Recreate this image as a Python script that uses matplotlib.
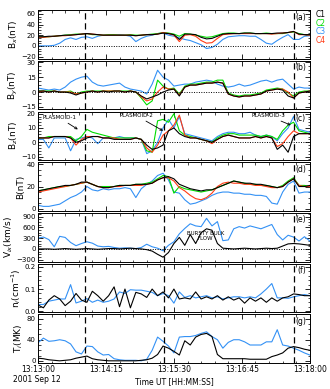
import numpy as np
import matplotlib
matplotlib.use("Agg")
import matplotlib.pyplot as plt
from matplotlib.ticker import MultipleLocator, AutoMinorLocator

# seconds after 13:13:00, 6 s sampling
t = np.arange(0, 301, 6)

bx_c1 = [17, 17, 18, 18, 19, 20, 20, 21, 22, 23,
         22, 21, 20, 20, 20, 20, 20, 20, 19, 20,
         21, 21, 22, 24, 23, 21, 12, 22, 22, 21,
         16, 13, 14, 18, 22, 23, 23, 23, 24, 24,
         23, 23, 23, 23, 24, 24, 25, 27, 22, 21,
         21]
bx_c2 = [16, 17, 17, 18, 19, 20, 21, 22, 22, 23,
         21, 21, 20, 21, 21, 20, 20, 21, 20, 20,
         21, 22, 23, 25, 24, 22, 18, 23, 22, 20,
         18, 16, 17, 20, 23, 24, 24, 23, 24, 24,
         23, 23, 24, 23, 23, 23, 25, 26, 23, 21,
         21]
bx_c3 = [0, 0, 0, 1, 5, 12, 15, 12, 16, 17,
         14, 18, 20, 20, 20, 21, 20, 18, 8, 14,
         18, 20, 23, 24, 20, 18, 15, 12, 10, 6,
         2, -5, -3, 3, 12, 17, 18, 19, 19, 18,
         18, 12, 5, 3, 10, 16, 21, 12, 12, 18,
         19]
bx_c4 = [16, 16, 17, 18, 19, 19, 20, 21, 22, 23,
         22, 21, 20, 20, 20, 20, 20, 20, 19, 20,
         21, 21, 22, 25, 23, 20, 8, 20, 21, 18,
         10, 5, 6, 14, 21, 22, 23, 23, 23, 23,
         23, 23, 23, 22, 23, 24, 25, 27, 21, 21,
         20]

by_c1 = [1, 1, 0, 1, 0, 0, -1, -3, -1, 0,
         1, 0, 1, 0, 1, 1, 0, 1, 0, -4,
         -7, -5, -3, 0, 2, 3, -4, 5, 7, 7,
         8, 9, 9, 10, 9, -2, -4, -5, -4, -4,
         -3, -2, 1, 2, 3, 2, -4, -6, -1, 0,
         1]
by_c2 = [1, 1, 1, 1, 0, 0, 1, -2, 0, 1,
         1, 1, 1, 1, 1, 1, 1, 1, 0, -6,
         -13, -9, 12, 6, 3, 4, -2, 6, 8, 8,
         9, 10, 10, 12, 12, -1, -3, -4, -3, -3,
         -2, -1, 2, 3, 4, 3, -1, -4, 0, 1,
         1]
by_c3 = [4, 3, 2, 3, 2, 5, 10, 13, 15, 16,
         10, 7, 6, 7, 8, 9, 5, 3, 2, 1,
         -2, 8, 22, 15, 12, 6, 7, 8, 8, 10,
         11, 12, 11, 8, 6, 5, 6, 8, 6, 7,
         9, 11, 12, 10, 12, 13, 8, 3, 5, 4,
         4]
by_c4 = [0, 1, 0, 1, 0, 0, 0, -2, -1, 0,
         1, 0, 1, 1, 1, 1, 0, 1, 0, -5,
         -9, -7, 0, 5, 3, 3, -3, 5, 7, 7,
         8, 9, 9, 10, 9, -2, -4, -5, -4, -4,
         -3, -2, 1, 2, 3, 3, 0, -6, -1, 0,
         1]

bz_c1 = [3, 3, 3, 4, 4, 4, 3, 0, 1, 3,
         4, 4, 3, 3, 2, 2, 2, 2, 3, 2,
         -2, -5, -4, -2, 8, 10, 6, 4, 3, 3,
         2, 1, 0, 2, 4, 5, 4, 3, 3, 3,
         4, 3, 4, 3, -5, -2, -7, 4, 6, 6,
         6]
bz_c2 = [3, 3, 4, 4, 4, 4, 4, 1, 4, 9,
         7, 6, 5, 4, 3, 3, 3, 3, 3, 2,
         -6, -7, 15, 16, 14, 20, 8, 5, 4, 3,
         2, 1, 0, 3, 5, 6, 6, 5, 5, 5,
         5, 4, 5, 4, 2, 8, 12, 14, 8, 7,
         6]
bz_c3 = [2, 2, -4, 3, 3, 3, -6, 2, 3, 4,
         3, -1, 3, 3, 3, 4, 3, 3, 3, 2,
         -8, -6, 0, 10, 16, 10, 18, 6, 5, 4,
         3, 2, 1, 4, 6, 7, 7, 6, 6, 7,
         5, 4, 5, 4, 1, 6, 10, 18, 9, 8,
         7]
bz_c4 = [3, 3, 3, 4, 4, 4, 3, -2, 2, 4,
         4, 4, 3, 3, 3, 2, 2, 2, 3, 2,
         -4, -7, -2, 5, 8, 12, 19, 5, 3, 3,
         2, 1, -1, 2, 4, 5, 4, 3, 3, 3,
         4, 3, 4, 3, -3, -1, 4, 8, 6, 6,
         6]

b_c1 = [16, 17, 18, 19, 20, 21, 21, 22, 24, 24,
        22, 20, 19, 19, 20, 21, 21, 21, 22, 22,
        22, 23, 26, 28, 29, 27, 22, 20, 18, 17,
        16, 17, 17, 19, 21, 23, 25, 24, 23, 23,
        22, 22, 21, 20, 19, 20, 24, 27, 20, 20,
        21]
b_c2 = [16, 17, 18, 19, 20, 20, 21, 22, 23, 24,
        22, 20, 20, 20, 20, 21, 21, 21, 22, 22,
        23, 24, 27, 30, 29, 14, 20, 18, 17, 16,
        15, 16, 17, 19, 21, 23, 25, 24, 23, 22,
        22, 21, 21, 20, 19, 21, 25, 28, 21, 21,
        20]
b_c3 = [3, 2, 2, 3, 4, 7, 10, 12, 15, 20,
        17, 16, 18, 17, 18, 18, 19, 18, 10, 18,
        22, 25, 30, 32, 26, 15, 14, 8, 4, 5,
        7, 9, 12, 14, 15, 15, 14, 14, 13, 13,
        12, 12, 11, 5, 4, 15, 22, 25, 14, 15,
        15]
b_c4 = [15, 16, 17, 18, 19, 20, 21, 22, 23, 24,
        22, 20, 19, 19, 20, 20, 21, 21, 21, 21,
        22, 23, 26, 28, 28, 25, 19, 16, 12, 9,
        8, 10, 14, 20, 23, 24, 23, 23, 22, 22,
        21, 21, 20, 19, 19, 20, 24, 27, 21, 20,
        20]

v_c1 = [0, 0, 0, -10, 0, 10, 0, -10, 0, 10,
        0, -10, 0, 10, 10, 0, 10, 20, 10, 0,
        -20, -60, -150, -230, -100, 150, 320, 100, 400, 150,
        450, 560, 520, 150, 20, 10, 0, 10, 20, 10,
        0, 10, 20, 10, 20, 80, 140, 150, 140, 120,
        100]
v_c3 = [300, 330, 260, 60, 350, 320, 180, 90, 150, 200,
        160, 80, 60, 70, 40, 20, 30, 20, 10, 40,
        130, 60, 20, -50, 100, 200, 420, 570, 700, 640,
        620, 850, 640, 760, 230, 250, 560, 620, 580, 640,
        600, 560, 620, 680, 400, 250, 380, 330, 220, 340,
        220]

n_c1 = [0.028, 0.015, 0.05, 0.07, 0.055, 0.025, 0.045, 0.08, 0.05, 0.04,
        0.09, 0.07, 0.045, 0.07, 0.11, 0.02, 0.10, 0.015, 0.085, 0.078,
        0.062, 0.10, 0.07, 0.087, 0.06, 0.10, 0.055, 0.06, 0.055, 0.087,
        0.055, 0.065, 0.055, 0.07, 0.05, 0.065, 0.05, 0.06, 0.036, 0.06,
        0.045, 0.06, 0.04, 0.06, 0.045, 0.06, 0.065, 0.078, 0.075, 0.07,
        0.07]
n_c3 = [0.03, 0.03, 0.045, 0.05, 0.055, 0.055, 0.12, 0.037, 0.045, 0.057,
        0.04, 0.05, 0.04, 0.045, 0.055, 0.087, 0.08, 0.097, 0.095, 0.095,
        0.09, 0.085, 0.07, 0.08, 0.07, 0.036, 0.087, 0.062, 0.07, 0.06,
        0.065, 0.07, 0.06, 0.065, 0.055, 0.06, 0.065, 0.065, 0.06, 0.065,
        0.06, 0.078, 0.1, 0.125, 0.06, 0.06, 0.058, 0.065, 0.07, 0.075,
        0.07]

ti_c1 = [5, 4, 2, 1, 0, 1, 2, 5, 7, 9,
         4, 2, 1, 0, 0, 0, 0, 0, 0, 1,
         2, 5, 12, 28, 24, 18, 11, 38, 30, 45,
         50, 52, 46, 12, 4, 4, 4, 4, 4, 3,
         3, 3, 3, 8, 11, 15, 24, 27, 25, 22,
         20]
ti_c3 = [34, 43, 37, 38, 40, 38, 32, 17, 13, 28,
         27, 17, 11, 12, 4, 2, 1, 1, 1, 0,
         3, 20, 45, 37, 28, 15, 45, 46, 46, 48,
         52, 55, 46, 40, 24, 35, 40, 40, 36, 30,
         30, 30, 36, 36, 59, 30, 28, 24, 20, 15,
         11]

event_times = [52, 139, 283]
time_ticks = [0, 75, 150, 225, 300]
time_labels = ["13:13:00", "13:14:15", "13:15:30", "13:16:45", "13:18:00"]

col = {"C1": "black", "C2": "#00dd00", "C3": "#3391f5", "C4": "#ff3a14"}

plt.rcParams["font.family"] = "DejaVu Sans"
plt.rcParams["font.size"] = 5.5

fig, axes = plt.subplots(7, 1, figsize=(3.3, 3.89), dpi=100, sharex=True)
fig.subplots_adjust(left=0.115, right=0.939, top=0.974, bottom=0.067, hspace=0.045)

panels = [
    ([bx_c1, bx_c2, bx_c3, bx_c4], "B$_x$(nT)", (-24, 67), [-20, 0, 20, 40, 60], True),
    ([by_c1, by_c2, by_c3, by_c4], "B$_y$(nT)", (-17.5, 31.5), [-15, 0, 15, 30], True),
    ([bz_c1, bz_c2, bz_c3, bz_c4], "B$_z$(nT)", (-12.5, 21.5), [-10, 0, 10, 20], True),
    ([b_c1, b_c2, b_c3, b_c4], "B(nT)", (-2, 42), [0, 20, 40], False),
    ([v_c1, None, v_c3, None], "V$_{ix}$(km/s)", (-350, 1000), [-300, 0, 300, 600, 900], True),
    ([n_c1, None, n_c3, None], "n$_i$(cm$^{-1}$)", (-0.005, 0.215), [0.0, 0.1, 0.2], False),
    ([ti_c1, None, ti_c3, None], "T$_i$(MK)", (-4, 88), [0, 40, 80], False),
]
letters = "abcdefg"

for k, (ax, (series, lab, lim, ticks, zero)) in enumerate(zip(axes, panels)):
    # C1 drawn last so it sits on top
    for name, s in zip(["C3", "C2", "C4", "C1"], [series[2], series[1], series[3], series[0]]):
        if s is not None:
            ax.plot(t, s, color=col[name], lw=0.8)
    if zero:
        ax.axhline(0, color="k", lw=0.7, ls=(0, (1, 1.5)))
    for et in event_times:
        ax.axvline(et, color="k", lw=0.9, ls=(0, (5, 3)))
    ax.set_ylim(*lim)
    ax.set_yticks(ticks)
    if k == 5:
        ax.set_yticklabels(["0.0", "0.1", "0.2"])
    ax.yaxis.set_minor_locator(AutoMinorLocator())
    ax.set_ylabel(lab, labelpad=1, fontsize=6.5)
    ax.set_xlim(0, 300)
    ax.set_xticks(time_ticks)
    ax.xaxis.set_minor_locator(MultipleLocator(15))
    ax.tick_params(direction="in", top=True, right=True, which="both", pad=1.5)
    ax.tick_params(axis="y", labelsize=5)
    ax.tick_params(which="major", length=3.5, width=0.6)
    ax.tick_params(which="minor", length=1.8, width=0.5)
    for sp in ax.spines.values():
        sp.set_linewidth(0.7)
    ax.text(0.985, 0.95, "(%s)" % letters[k], transform=ax.transAxes,
            ha="right", va="top", fontsize=5.5)

axes[-1].set_xticklabels(time_labels)
axes[-1].set_xlabel("Time UT [HH:MM:SS]", labelpad=2)
fig.text(0.04, 0.012, "2001 Sep 12", fontsize=5.5, va="bottom")

# spacecraft legend
for i, name in enumerate(["C1", "C2", "C3", "C4"]):
    fig.text(0.955, 0.962 - i * 0.022, name, color=col[name], fontsize=5.5, va="center")

# plasmoid markers
arr = dict(arrowstyle="->", color="k", lw=0.6, shrinkA=0, shrinkB=0)
axes[2].annotate("PLASMOID-1", xy=(44, 9), xytext=(24, 17), fontsize=4, ha="center",
                 va="center", arrowprops=arr)
axes[2].annotate("PLASMOID-2", xy=(138, 8), xytext=(109, 18.5), fontsize=4, ha="center",
                 va="center", arrowprops=arr)
axes[2].annotate("PLASMOID-3", xy=(279, 12), xytext=(254, 18.5), fontsize=4, ha="center",
                 va="center", arrowprops=arr)
axes[4].text(185, 360, "BURSTY BULK\nFLOW", fontsize=4, ha="center", va="center",
             linespacing=0.9)

fig.savefig("out.png", dpi=100)
